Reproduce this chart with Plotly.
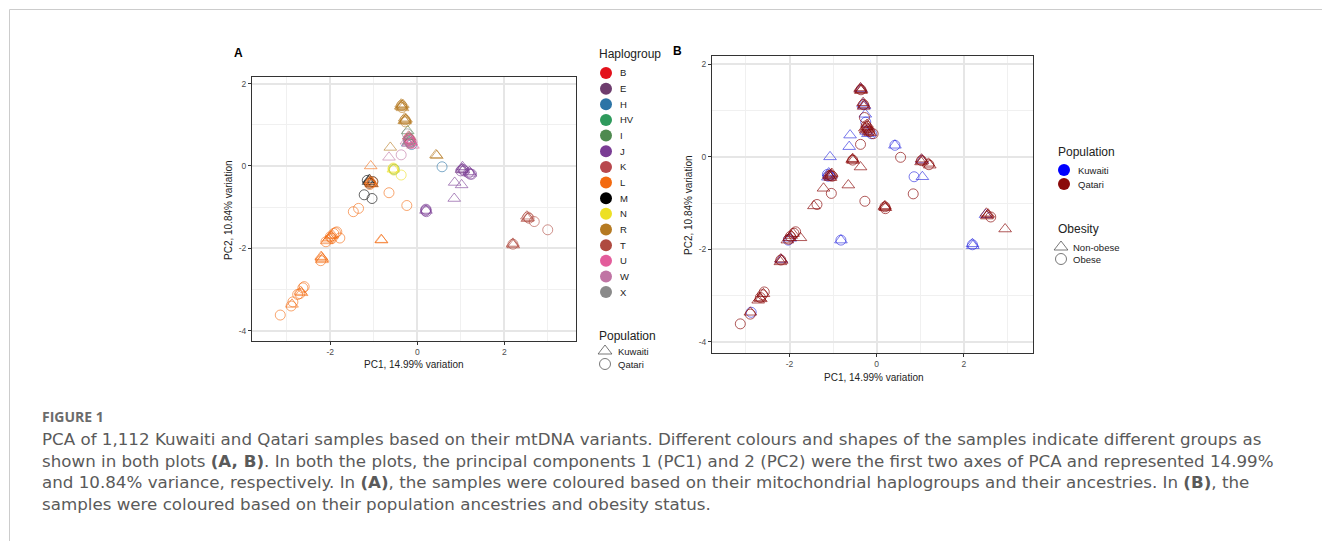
import plotly.graph_objects as go

W, H = 1322, 541

# ---------------- Panel A data (PC1, PC2) by haplogroup and population ----------------
haplogroups = ["B", "E", "H", "HV", "I", "J", "K", "L", "M", "N", "R", "T", "U", "W", "X"]
hap_colors = ["#E3111B", "#6E3D6E", "#2C74A6", "#2E9A5C", "#4F8A50", "#7A3C94", "#B8484E",
              "#F36A10", "#000000", "#EDE024", "#B57A22", "#AF4A40", "#E35C9B", "#C074A4", "#8A8A8A"]

# Kuwaiti samples (triangles)
A_kuw_pc1 = {
    "R": [-0.37, -0.35, -0.36, -0.34, -0.38, -0.33, -0.29, -0.27, -0.28, -0.26, -0.30, -0.62, 0.43, 0.45],
    "U": [-0.18, -0.14, -0.10, -0.20],
    "HV": [-0.19],
    "I": [-0.22, -0.18],
    "H": [-0.22],
    "K": [-0.20],
    "W": [-0.25, -0.65],
    "E": [1.02],
    "N": [-0.55],
    "M": [-1.12, -1.05, -1.10],
    "L": [-1.06, -1.04, -1.08, -1.07, -2.02, -1.98, -2.05, -1.95, -2.08, -2.20, -2.18, -2.19, -2.21,
          -2.68, -2.66, -2.88, -0.82, -0.83],
    "J": [1.03, 1.06, 1.04, 1.20, 1.22, 0.86, 1.02, 0.85, 0.20],
    "T": [2.52, 2.55, 2.53, 2.20, 2.21, 2.19],
}
A_kuw_pc2 = {
    "R": [1.50, 1.47, 1.44, 1.41, 1.45, 1.49, 1.16, 1.12, 1.09, 1.14, 1.10, 0.45, 0.27, 0.25],
    "U": [0.64, 0.58, 0.50, 0.55],
    "HV": [0.60],
    "I": [0.85, 0.70],
    "H": [0.55],
    "K": [0.72],
    "W": [0.60, 0.21],
    "E": [-0.09],
    "N": [-0.08],
    "M": [-0.38, -0.43, -0.33],
    "L": [-0.40, -0.44, -0.36, 0.00, -1.74, -1.70, -1.78, -1.68, -1.82, -2.22, -2.25, -2.28, -2.20,
          -3.05, -3.08, -3.36, -1.80, -1.79],
    "J": [-0.06, -0.10, -0.02, -0.14, -0.18, -0.40, -0.46, -0.79, -1.08],
    "T": [-1.22, -1.26, -1.28, -1.88, -1.92, -1.90],
}
# Qatari samples (circles)
A_qat_pc1 = {
    "B": [-0.19],
    "R": [-0.36, -0.35, -0.28, -0.27],
    "U": [-0.17, -0.15, -0.20, -0.12],
    "HV": [-0.18, -0.16, -0.53],
    "H": [-0.13, -0.20, 0.57],
    "K": [-0.16],
    "X": [-0.23],
    "W": [-0.37],
    "N": [-0.56, -0.54, -0.55, -0.37],
    "M": [-1.10, -1.15, -1.02, -1.22, -1.04],
    "L": [-1.07, -1.03, -1.09, -0.65, -0.24, -1.47, -1.35, -2.00, -1.92, -1.88, -2.10, -1.96, -1.85,
          -1.78, -2.22, -2.70, -2.63, -2.60, -2.75, -2.90, -2.86, -3.15],
    "J": [1.05, 1.08, 1.18, 1.22, 1.25, 1.00, 0.20, 0.21, 0.19, 0.20],
    "T": [2.54, 2.57, 2.69, 3.00, 2.20],
}
A_qat_pc2 = {
    "B": [0.66],
    "R": [1.47, 1.42, 1.12, 1.07],
    "U": [0.62, 0.55, 0.68, 0.57],
    "HV": [0.58, 0.56, -0.08],
    "H": [0.52, 0.62, -0.02],
    "K": [0.64],
    "X": [0.78],
    "W": [0.27],
    "N": [-0.07, -0.10, -0.05, -0.22],
    "M": [-0.42, -0.35, -0.38, -0.70, -0.79],
    "L": [-0.41, -0.39, -0.45, -0.65, -0.96, -1.11, -1.03, -1.72, -1.64, -1.62, -1.84, -1.76, -1.60,
          -1.75, -2.30, -3.10, -2.96, -2.93, -3.12, -3.40, -3.30, -3.62],
    "J": [-0.08, -0.12, -0.17, -0.20, -0.20, -0.12, -1.07, -1.11, -1.09, -1.05],
    "T": [-1.24, -1.27, -1.35, -1.55, -1.90],
}
A_draw_order = ["B", "E", "H", "HV", "I", "J", "K", "M", "L", "N", "R", "T", "U", "W", "X"]

# ---------------- Panel B data by population and obesity ----------------
B_kuw_nonobese_pc1 = [-0.36, -0.31, -0.28, -0.26, -0.24, -0.20, -0.61, -0.63, 0.42, -1.07, -1.10, -1.12,
                      -1.05, 1.04, 1.05, -1.98, -0.82, -2.19, 2.50, 2.20, 2.21]
B_kuw_nonobese_pc2 = [1.47, 1.14, 1.10, 0.92, 0.55, 0.50, 0.47, 0.22, 0.25, 0.00, -0.35, -0.44,
                      -0.40, -0.07, -0.43, -1.76, -1.80, -2.22, -1.25, -1.88, -1.92]
B_kuw_obese_pc1 = [-0.12, -0.25, 0.42, -1.11, -1.13, 0.86, -2.03, -0.82, -2.88, 2.20]
B_kuw_obese_pc2 = [0.50, 0.75, 0.25, -0.42, -0.38, -0.43, -1.80, -1.80, -3.36, -1.90]
B_qat_nonobese_pc1 = [-0.37, -0.35, -0.36, -0.38, -0.31, -0.29, -0.30, -0.23, -0.20, -0.25, -0.18,
                      -0.22, -0.27, -0.15, -0.55, -0.54, -0.56, -0.37, -1.05, -1.08, -1.03, -1.10,
                      -1.06, -1.22, -0.65, -1.44, 0.19, 0.20, 0.18, 1.03, 1.05, 1.02, 1.19, 1.22,
                      -2.00, -1.96, -1.92, -1.75, -2.05, -2.20, -2.18, -2.21, -2.68, -2.66, -2.60,
                      -2.72, -2.90, 2.52, 2.55, 2.53, 2.56, 2.95]
B_qat_nonobese_pc2 = [1.49, 1.45, 1.43, 1.46, 1.17, 1.12, 1.09, 0.65, 0.60, 0.58, 0.55,
                      0.70, 0.62, 0.52, -0.04, -0.08, -0.06, -0.22, -0.38, -0.42, -0.36, -0.40,
                      -0.45, -0.68, -0.61, -1.06, -1.06, -1.10, -1.08, -0.05, -0.09, -0.11, -0.14, -0.18,
                      -1.75, -1.70, -1.66, -1.75, -1.80, -2.21, -2.24, -2.27, -3.05, -3.07, -2.96,
                      -3.10, -3.36, -1.22, -1.26, -1.28, -1.24, -1.56]
B_qat_obese_pc1 = [-0.36, -0.30, -0.28, -0.22, -0.19, -0.24, -0.16, -0.08, -0.37, 0.55, -0.55, -1.07,
                   -1.02, -1.04, -0.27, -1.37, 0.19, 0.20, 1.03, 1.20, 0.84, -1.98, -1.90, -1.86,
                   -2.02, -2.20, -2.67, -2.58, -2.62, -2.90, -3.13, 2.62]
B_qat_obese_pc2 = [1.45, 1.13, 0.85, 0.62, 0.58, 0.67, 0.55, 0.50, 0.27, -0.01, -0.07, -0.40,
                   -0.42, -0.79, -0.96, -1.03, -1.08, -1.12, -0.08, -0.17, -0.80, -1.72, -1.65, -1.62,
                   -1.78, -2.23, -3.04, -2.92, -2.98, -3.40, -3.61, -1.30]

# ---------------- axes / text ----------------
x_tickvals = [-2, 0, 2]
x_ticktext = ["-2", "0", "2"]
y_tickvals = [-4, -2, 0, 2]
y_ticktext = ["-4", "-2", "0", "2"]
x_minor = [-3, -1, 1, 3]
y_minor = [-3, -1, 1]
x_title = "PC1, 14.99% variation"
y_title = "PC2, 10.84% variation"

caption_head = "FIGURE 1"
caption_lines = [
    "PCA of 1,112 Kuwaiti and Qatari samples based on their mtDNA variants. Different colours and shapes of the samples indicate different groups as",
    "shown in both plots <b>(A, B)</b>. In both the plots, the principal components 1 (PC1) and 2 (PC2) were the first two axes of PCA and represented 14.99%",
    "and 10.84% variance, respectively. In <b>(A)</b>, the samples were coloured based on their mitochondrial haplogroups and their ancestries. In <b>(B)</b>, the",
    "samples were coloured based on their population ancestries and obesity status.",
]


def px(x):
    return x / W


def py(y):
    return 1 - y / H


def rgba(hexc, a):
    h = hexc.lstrip("#")
    return "rgba(%d,%d,%d,%.2f)" % (int(h[0:2], 16), int(h[2:4], 16), int(h[4:6], 16), a)


fig = go.Figure()
TRI = "triangle-up-open"
CIR = "circle-open"
ALPHA = 0.6

# Panel A traces
for hap in A_draw_order:
    col = hap_colors[haplogroups.index(hap)]
    for pc1, pc2, sym, pop, size in ((A_kuw_pc1, A_kuw_pc2, TRI, "Kuwaiti", 11),
                                     (A_qat_pc1, A_qat_pc2, CIR, "Qatari", 10)):
        if hap in pc1:
            fig.add_trace(go.Scatter(
                x=pc1[hap], y=pc2[hap], mode="markers", xaxis="x", yaxis="y",
                name=f"{hap} {pop}", showlegend=False,
                marker=dict(symbol=sym, size=size, opacity=1, color=rgba(col, ALPHA),
                            line=dict(width=1, color=rgba(col, ALPHA)))))

# Panel B traces
KUW_COL = "#0000FF"
KUW_PT = "#2222DD"
QAT_COL = "#8B0A0A"
for xs, ys, sym, col, nm, size, a in (
        (B_kuw_nonobese_pc1, B_kuw_nonobese_pc2, TRI, KUW_PT, "Kuwaiti non-obese", 11, 0.6),
        (B_kuw_obese_pc1, B_kuw_obese_pc2, CIR, KUW_PT, "Kuwaiti obese", 10, 0.6),
        (B_qat_nonobese_pc1, B_qat_nonobese_pc2, TRI, QAT_COL, "Qatari non-obese", 11, 0.68),
        (B_qat_obese_pc1, B_qat_obese_pc2, CIR, QAT_COL, "Qatari obese", 10, 0.68)):
    fig.add_trace(go.Scatter(
        x=xs, y=ys, mode="markers", xaxis="x2", yaxis="y2", name=nm, showlegend=False,
        marker=dict(symbol=sym, size=size, opacity=1, color=rgba(col, a),
                    line=dict(width=1, color=rgba(col, a)))))

# Legend keys (drawn on an invisible pixel-space overlay axis)
leg_x, leg_y, leg_sym, leg_col, leg_size, leg_lw = [], [], [], [], [], []
for i, c in enumerate(hap_colors):
    leg_x.append(606); leg_y.append(73 + i * 15.65); leg_sym.append("circle")
    leg_col.append(c); leg_size.append(12); leg_lw.append(0)
for yy, s in ((351, "triangle-up-open"), (364, "circle-open")):
    leg_x.append(605); leg_y.append(yy); leg_sym.append(s); leg_col.append("#555555")
    leg_size.append(12 if s.startswith("tri") else 11); leg_lw.append(0.8)
for yy, c in ((170, KUW_COL), (184, QAT_COL)):
    leg_x.append(1064); leg_y.append(yy); leg_sym.append("circle"); leg_col.append(c)
    leg_size.append(12); leg_lw.append(0)
for yy, s in ((247, "triangle-up-open"), (259, "circle-open")):
    leg_x.append(1061); leg_y.append(yy); leg_sym.append(s); leg_col.append("#555555")
    leg_size.append(12 if s.startswith("tri") else 11); leg_lw.append(0.8)
fig.add_trace(go.Scatter(
    x=leg_x, y=leg_y, mode="markers", xaxis="x3", yaxis="y3", showlegend=False, hoverinfo="skip",
    marker=dict(symbol=leg_sym, color=leg_col, size=leg_size, opacity=1,
                line=dict(width=leg_lw, color=leg_col))))

FONT = "Liberation Sans, Arial, sans-serif"
GRID = "#E6E6E6"
MINOR = "#F0F0F0"


def axis_common(domain, rng, tickvals, ticktext, minor_vals, anchor):
    return dict(domain=domain, range=rng, tickvals=tickvals, ticktext=ticktext,
                showgrid=True, gridcolor=GRID, gridwidth=1.6, zeroline=False,
                showline=True, linecolor="#333333", linewidth=1.2, mirror=True,
                ticks="outside", ticklen=3, tickcolor="#333333", tickwidth=1,
                tickfont=dict(size=8.5, color="#4D4D4D", family=FONT),
                minor=dict(tickvals=minor_vals, showgrid=True, gridcolor=MINOR, gridwidth=0.9, ticks=""),
                anchor=anchor, fixedrange=True)


# Panel A pixel box: x 252-576, y 77-341 ; Panel B: x 712-1033, y 56-353
xa = axis_common([px(252), px(576)], [-3.80, 3.65], x_tickvals, x_ticktext, x_minor, "y")
ya = axis_common([py(341), py(77)], [-4.25, 2.16], y_tickvals, y_ticktext, y_minor, "x")
xb = axis_common([px(712), px(1033)], [-3.78, 3.59], x_tickvals, x_ticktext, x_minor, "y2")
yb = axis_common([py(353), py(56)], [-4.24, 2.18], y_tickvals, y_ticktext, y_minor, "x2")

fig.update_layout(
    width=W, height=H, autosize=False,
    margin=dict(l=0, r=0, t=0, b=0, pad=0),
    paper_bgcolor="white", plot_bgcolor="rgba(0,0,0,0)",
    font=dict(family=FONT, color="#333333"),
    showlegend=False,
    xaxis=xa, yaxis=ya, xaxis2=xb, yaxis2=yb,
    xaxis3=dict(domain=[0, 1], range=[0, W], visible=False, anchor="y3", fixedrange=True),
    yaxis3=dict(domain=[0, 1], range=[H, 0], visible=False, anchor="x3", fixedrange=True),
)

shapes = []
# red dotted reference lines at 0
for xr, yr in (("x", "y"), ("x2", "y2")):
    shapes.append(dict(type="line", xref=xr, yref=yr + " domain", x0=0, x1=0, y0=0, y1=1,
                       line=dict(color="#E05555", width=0.9, dash="dot"), layer="below"))
    shapes.append(dict(type="line", xref=xr + " domain", yref=yr, x0=0, x1=1, y0=0, y1=0,
                       line=dict(color="#E05555", width=0.9, dash="dot"), layer="below"))
# page card border
shapes.append(dict(type="line", xref="paper", yref="paper", x0=px(9.5), x1=1, y0=py(9.5), y1=py(9.5),
                   line=dict(color="#CCCCCC", width=1)))
shapes.append(dict(type="line", xref="paper", yref="paper", x0=px(9.5), x1=px(9.5), y0=py(9.5), y1=0,
                   line=dict(color="#CCCCCC", width=1)))
fig.update_layout(shapes=shapes)

ann = []


def text(x, y, s, size, color="#333333", xanchor="left", bold=False, angle=0, family=FONT):
    ann.append(dict(xref="paper", yref="paper", x=px(x), y=py(y), text=(f"<b>{s}</b>" if bold else s),
                    showarrow=False, xanchor=xanchor, yanchor="middle", textangle=angle,
                    font=dict(size=size, color=color, family=family)))


# panel labels
text(238, 53, "A", 12, "#000000", "center", True)
text(677, 51, "B", 12, "#000000", "center", True)
# axis titles
text(414, 364, x_title, 10, "#222222", "center")
text(228, 210, y_title, 10, "#222222", "center", angle=-90)
text(874, 377, x_title, 10, "#222222", "center")
text(688, 205, y_title, 10, "#222222", "center", angle=-90)
# legend A
text(597, 54, "Haplogroup", 12, "#222222")
for i, hname in enumerate(haplogroups):
    text(618, 73 + i * 15.65, hname, 9.5, "#222222")
text(597, 336, "Population", 12, "#222222")
text(616, 351, "Kuwaiti", 9.5, "#222222")
text(616, 364, "Qatari", 9.5, "#222222")
# legend B
text(1056, 152, "Population", 12, "#222222")
text(1076, 170, "Kuwaiti", 9.5, "#222222")
text(1076, 184, "Qatari", 9.5, "#222222")
text(1056, 229, "Obesity", 12, "#222222")
text(1071, 247, "Non-obese", 9.5, "#222222")
text(1071, 259, "Obese", 9.5, "#222222")
# caption
CAP = "DejaVu Sans, Verdana, sans-serif"
text(40, 416, caption_head, 14, "#6B6B6B", bold=True, family="Open Sans, sans-serif")
for i, line in enumerate(caption_lines):
    text(40, 439 + i * 21.5, line, 16.7, "#5A5A5A", family=CAP)
fig.update_layout(annotations=ann)

fig.write_html("out.html", post_script="document.body.style.margin='0px';",
               config={"displayModeBar": False})
